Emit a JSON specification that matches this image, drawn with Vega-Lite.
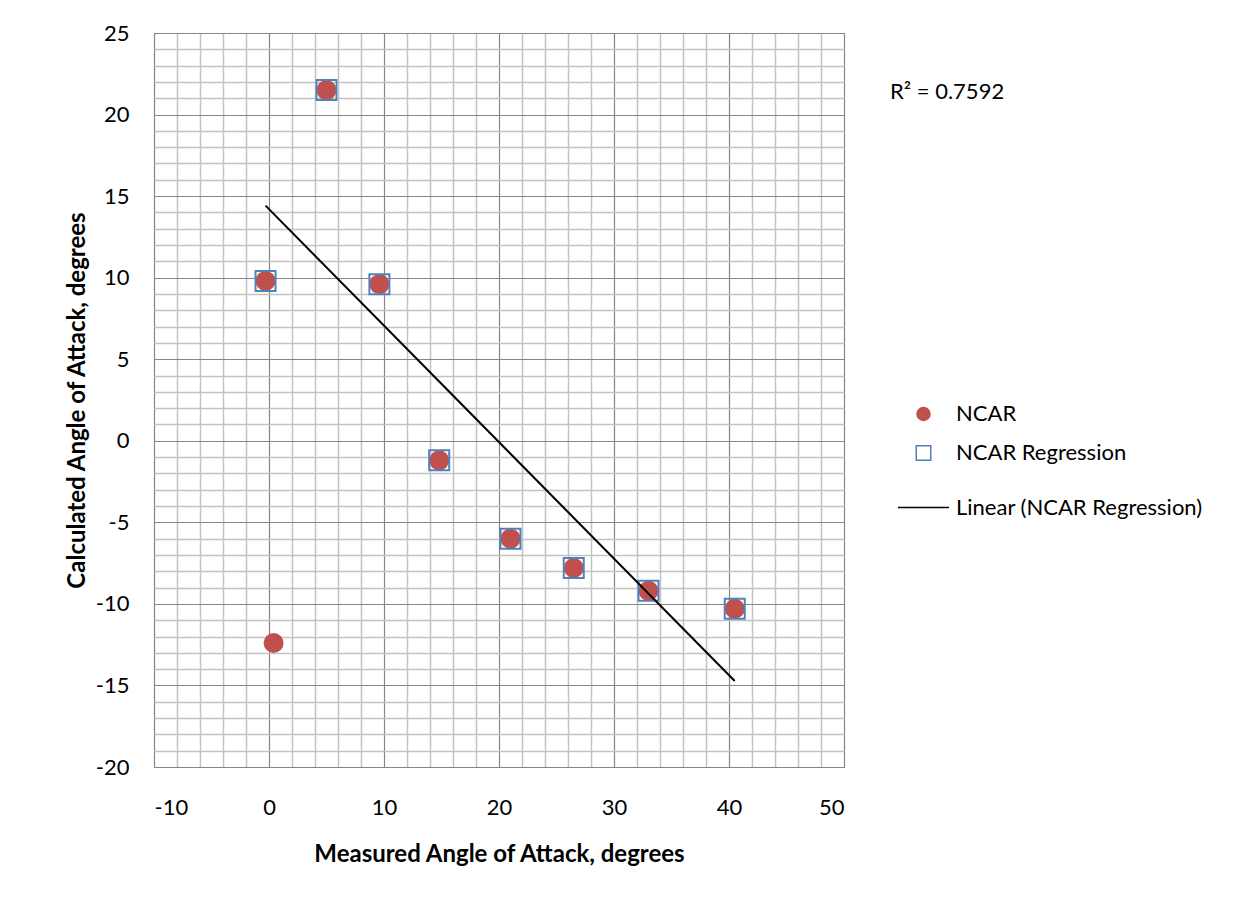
{
  "$schema": "https://vega.github.io/schema/vega-lite/v6.json",
  "width": 690,
  "height": 734,
  "autosize": {"type": "none"},
  "padding": {"left": 154, "top": 33, "right": 410, "bottom": 137},
  "background": "white",
  "config": {
    "font": "Lato",
    "view": {"stroke": "#868686", "strokeWidth": 1},
    "legend": {
      "orient": "none",
      "legendX": 743,
      "legendY": 370,
      "labelFontSize": 22,
      "labelFont": "Lato",
      "labelColor": "black",
      "labelOffset": 6,
      "symbolStrokeWidth": 1.5,
      "rowPadding": 17,
      "labelLimit": 400
    }
  },
  "datasets": {
    "points": [
      {"x": -0.3, "y": 9.8, "series": "NCAR"},
      {"x": 5.0, "y": 21.5, "series": "NCAR"},
      {"x": 9.6, "y": 9.6, "series": "NCAR"},
      {"x": 14.8, "y": -1.2, "series": "NCAR"},
      {"x": 21.0, "y": -6.0, "series": "NCAR"},
      {"x": 26.5, "y": -7.8, "series": "NCAR"},
      {"x": 33.0, "y": -9.2, "series": "NCAR"},
      {"x": 40.5, "y": -10.3, "series": "NCAR"},
      {"x": 0.4, "y": -12.4, "series": "NCAR"},
      {"x": -0.3, "y": 9.8, "series": "NCAR Regression"},
      {"x": 5.0, "y": 21.5, "series": "NCAR Regression"},
      {"x": 9.6, "y": 9.6, "series": "NCAR Regression"},
      {"x": 14.8, "y": -1.2, "series": "NCAR Regression"},
      {"x": 21.0, "y": -6.0, "series": "NCAR Regression"},
      {"x": 26.5, "y": -7.8, "series": "NCAR Regression"},
      {"x": 33.0, "y": -9.2, "series": "NCAR Regression"},
      {"x": 40.5, "y": -10.3, "series": "NCAR Regression"}
    ],
    "annot": [{"x": 54, "y": 21.4, "text": "R² = 0.7592"}]
  },
  "encoding": {
    "x": {
      "field": "x",
      "type": "quantitative",
      "scale": {"domain": [-10, 50], "nice": false, "zero": false},
      "axis": {
        "values": [-10, -8, -6, -4, -2, 0, 2, 4, 6, 8, 10, 12, 14, 16, 18, 20, 22, 24, 26, 28, 30, 32, 34, 36, 38, 40, 42, 44, 46, 48, 50],
        "labelExpr": "datum.value % 10 === 0 ? '' + datum.value : ''",
        "labelOverlap": false,
        "labelFontSize": 22,
        "labelColor": "black",
        "labelPadding": 30,
        "ticks": false,
        "domain": false,
        "grid": true,
        "gridColor": {"condition": {"test": "datum.value % 10 === 0", "value": "#868686"}, "value": "#c3c3c3"},
        "gridWidth": {"condition": {"test": "datum.value % 10 === 0", "value": 1.2}, "value": 1.5},
        "title": "Measured Angle of Attack, degrees",
        "titleFontSize": 24,
        "titleFontWeight": "bold",
        "titleColor": "black",
        "titlePadding": 24
      }
    },
    "y": {
      "field": "y",
      "type": "quantitative",
      "scale": {"domain": [-20, 25], "nice": false, "zero": false},
      "axis": {
        "values": [-20, -19, -18, -17, -16, -15, -14, -13, -12, -11, -10, -9, -8, -7, -6, -5, -4, -3, -2, -1, 0, 1, 2, 3, 4, 5, 6, 7, 8, 9, 10, 11, 12, 13, 14, 15, 16, 17, 18, 19, 20, 21, 22, 23, 24, 25],
        "labelExpr": "datum.value % 5 === 0 ? '' + datum.value : ''",
        "labelOverlap": false,
        "labelFontSize": 22,
        "labelColor": "black",
        "labelPadding": 25,
        "ticks": false,
        "domain": false,
        "grid": true,
        "gridColor": {"condition": {"test": "datum.value % 5 === 0", "value": "#868686"}, "value": "#c3c3c3"},
        "gridWidth": {"condition": {"test": "datum.value % 5 === 0", "value": 1.2}, "value": 1.5},
        "title": "Calculated Angle of Attack, degrees",
        "titleFontSize": 24,
        "titleFontWeight": "bold",
        "titleColor": "black",
        "titlePadding": 6
      }
    }
  },
  "layer": [
    {
      "data": {"name": "points"},
      "mark": {"type": "point", "size": 400, "strokeWidth": 2, "opacity": 1, "filled": true},
      "encoding": {
        "shape": {
          "field": "series",
          "type": "nominal",
          "scale": {"domain": ["NCAR", "NCAR Regression", "Linear (NCAR Regression)"], "range": ["circle", "square", "stroke"]},
          "legend": {"title": null}
        },
        "fill": {
          "field": "series",
          "type": "nominal",
          "scale": {"domain": ["NCAR", "NCAR Regression", "Linear (NCAR Regression)"], "range": ["#C0504D", "transparent", "transparent"]},
          "legend": {"title": null}
        },
        "stroke": {
          "field": "series",
          "type": "nominal",
          "scale": {"domain": ["NCAR", "NCAR Regression", "Linear (NCAR Regression)"], "range": ["transparent", "#4F81BD", "black"]},
          "legend": {"title": null}
        }
      }
    },
    {
      "data": {"values": []},
      "mark": {"type": "point", "opacity": 1, "filled": true},
      "encoding": {
        "size": {
          "field": "series",
          "type": "nominal",
          "scale": {"type": "ordinal", "domain": ["NCAR", "NCAR Regression", "Linear (NCAR Regression)"], "range": [210, 210, 2601]},
          "legend": {"title": null}
        }
      }
    },
    {
      "data": {"name": "points"},
      "transform": [
        {"filter": "datum.series === 'NCAR Regression'"},
        {"regression": "y", "on": "x"}
      ],
      "mark": {"type": "line", "color": "black", "strokeWidth": 2}
    },
    {
      "data": {"name": "annot"},
      "mark": {"type": "text", "align": "left", "baseline": "middle", "fontSize": 22, "font": "Lato", "color": "black"},
      "encoding": {"text": {"field": "text"}}
    }
  ]
}
